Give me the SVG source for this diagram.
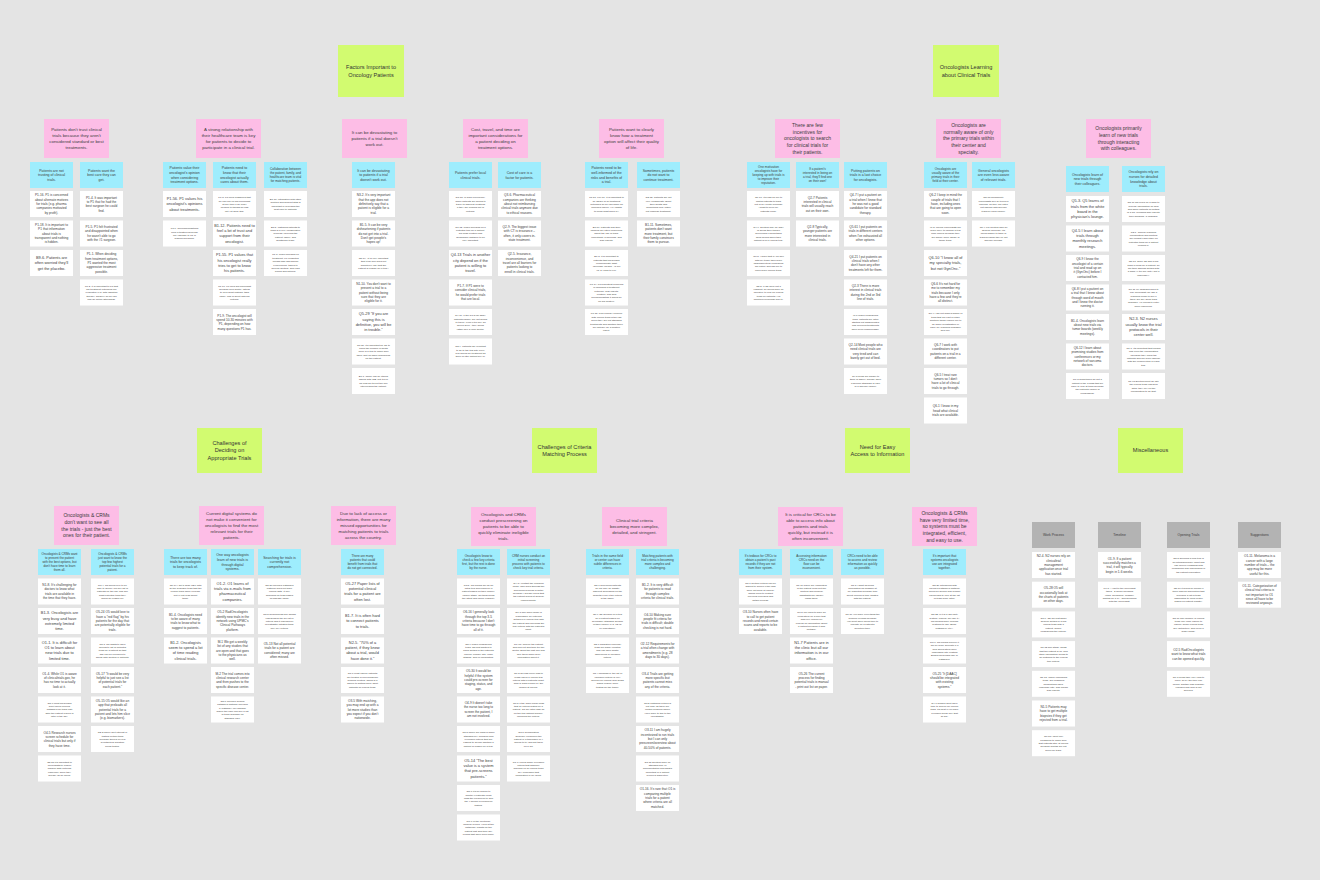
<svg xmlns="http://www.w3.org/2000/svg" width="1320" height="880" viewBox="0 0 1320 880">
<style>
.bg{fill:#e4e4e4}
.n{fill:#ffffff}
.p{fill:#fdbde6}
.c{fill:#9eedfd}
.g{fill:#d2fb70}
.k{fill:#b3b3b3}
text{font-family:"Liberation Sans",Arial,sans-serif;fill:#3c3c3c;text-anchor:middle}
.H{font-size:4.4px}
.HL{font-size:5px}
.C{font-size:3.5px}
.Cs{font-size:3.1px}
.G{font-size:5.6px;fill:#333}
.K{font-size:3.4px}
.L{font-size:3.9px}
.M{font-size:3.2px}
.S{font-size:2.5px}
</style>
<rect class="bg" width="1320" height="880"/>
<g id="connectors"/>

<!-- ===== Green titles ===== -->
<g id="title-factors" transform="translate(338,45)"><rect class="g" width="66" height="52"/><text class="G" y="26"><tspan x="33" dy="-0.33em">Factors Important to</tspan><tspan x="33" dy="1.35em">Oncology Patients</tspan></text></g>
<g id="title-learning" transform="translate(933,45)"><rect class="g" width="66" height="52"/><text class="G" y="26"><tspan x="33" dy="-0.33em">Oncologists Learning</tspan><tspan x="33" dy="1.35em">about Clinical Trials</tspan></text></g>
<g id="title-deciding" transform="translate(197,428)"><rect class="g" width="65" height="45"/><text class="G" y="22.5"><tspan x="32.5" dy="-1em">Challenges of</tspan><tspan x="32.5" dy="1.35em">Deciding on</tspan><tspan x="32.5" dy="1.35em">Appropriate Trials</tspan></text></g>
<g id="title-criteria" transform="translate(532,428)"><rect class="g" width="65" height="45"/><text class="G" y="22.5"><tspan x="32.5" dy="-0.33em">Challenges of Criteria</tspan><tspan x="32.5" dy="1.35em">Matching Process</tspan></text></g>
<g id="title-access" transform="translate(845,428)"><rect class="g" width="65" height="45"/><text class="G" y="22.5"><tspan x="32.5" dy="-0.33em">Need for Easy</tspan><tspan x="32.5" dy="1.35em">Access to Information</tspan></text></g>
<g id="title-misc" transform="translate(1118,428)"><rect class="g" width="65" height="45"/><text class="G" y="22.5"><tspan x="32.5" dy="0.35em">Miscellaneous</tspan></text></g>

<!-- ===== Top pink headers ===== -->
<g id="p-trust" transform="translate(44,119)"><rect class="p" width="65" height="39"/><text class="H" y="19.5"><tspan x="32.5" dy="-1.68em">Patients don't trust clinical</tspan><tspan x="32.5" dy="1.35em">trials because they aren't</tspan><tspan x="32.5" dy="1.35em">considered standard or best</tspan><tspan x="32.5" dy="1.35em">treatments.</tspan></text></g>
<g id="p-relationship" transform="translate(196,119)"><rect class="p" width="65" height="39"/><text class="H" y="19.5"><tspan x="32.5" dy="-1.68em">A strong relationship with</tspan><tspan x="32.5" dy="1.35em">their healthcare team is key</tspan><tspan x="32.5" dy="1.35em">for patients to decide to</tspan><tspan x="32.5" dy="1.35em">participate in a clinical trial.</tspan></text></g>
<g id="p-devastating" transform="translate(342,119)"><rect class="p" width="65" height="39"/><text class="H" y="19.5"><tspan x="32.5" dy="-1em">It can be devastating to</tspan><tspan x="32.5" dy="1.35em">patients if a trial doesn't</tspan><tspan x="32.5" dy="1.35em">work out.</tspan></text></g>
<g id="p-cost" transform="translate(463,119)"><rect class="p" width="65" height="39"/><text class="H" y="19.5"><tspan x="32.5" dy="-1.68em">Cost, travel, and time are</tspan><tspan x="32.5" dy="1.35em">important considerations for</tspan><tspan x="32.5" dy="1.35em">a patient deciding on</tspan><tspan x="32.5" dy="1.35em">treatment options.</tspan></text></g>
<g id="p-quality" transform="translate(599,119)"><rect class="p" width="65" height="39"/><text class="H" y="19.5"><tspan x="32.5" dy="-1.68em">Patients want to clearly</tspan><tspan x="32.5" dy="1.35em">know how a treatment</tspan><tspan x="32.5" dy="1.35em">option will affect their quality</tspan><tspan x="32.5" dy="1.35em">of life.</tspan></text></g>
<g id="p-incentives" transform="translate(775,119)"><rect class="p" width="65" height="39"/><text class="HL" y="19.5"><tspan x="32.5" dy="-2.35em">There are few</tspan><tspan x="32.5" dy="1.35em">incentives for</tspan><tspan x="32.5" dy="1.35em">oncologists to search</tspan><tspan x="32.5" dy="1.35em">for clinical trials for</tspan><tspan x="32.5" dy="1.35em">their patients.</tspan></text></g>
<g id="p-aware" transform="translate(936,119)"><rect class="p" width="65" height="39"/><text class="HL" y="19.5"><tspan x="32.5" dy="-2.35em">Oncologists are</tspan><tspan x="32.5" dy="1.35em">normally aware of only</tspan><tspan x="32.5" dy="1.35em">the primary trials within</tspan><tspan x="32.5" dy="1.35em">their center and</tspan><tspan x="32.5" dy="1.35em">specialty.</tspan></text></g>
<g id="p-colleagues" transform="translate(1086,119)"><rect class="p" width="65" height="39"/><text class="HL" y="19.5"><tspan x="32.5" dy="-1.68em">Oncologists primarily</tspan><tspan x="32.5" dy="1.35em">learn of new trials</tspan><tspan x="32.5" dy="1.35em">through interacting</tspan><tspan x="32.5" dy="1.35em">with colleagues.</tspan></text></g>

<!-- ===== Top cyan subheaders ===== -->
<g id="c-nottrusting" transform="translate(30,162)"><rect class="c" width="43" height="26"/><text class="C" y="13"><tspan x="21.5" dy="-1em">Patients are not</tspan><tspan x="21.5" dy="1.35em">trusting of clinical</tspan><tspan x="21.5" dy="1.35em">trials.</tspan></text></g>
<g id="c-bestcare" transform="translate(80,162)"><rect class="c" width="43" height="26"/><text class="C" y="13"><tspan x="21.5" dy="-1em">Patients want the</tspan><tspan x="21.5" dy="1.35em">best care they can</tspan><tspan x="21.5" dy="1.35em">get.</tspan></text></g>
<g id="c-value" transform="translate(163,162)"><rect class="c" width="43" height="26"/><text class="C" y="13"><tspan x="21.5" dy="-1.68em">Patients value their</tspan><tspan x="21.5" dy="1.35em">oncologist's opinion</tspan><tspan x="21.5" dy="1.35em">when considering</tspan><tspan x="21.5" dy="1.35em">treatment options.</tspan></text></g>
<g id="c-cares" transform="translate(213,162)"><rect class="c" width="43" height="26"/><text class="C" y="13"><tspan x="21.5" dy="-1.68em">Patients need to</tspan><tspan x="21.5" dy="1.35em">know that their</tspan><tspan x="21.5" dy="1.35em">oncologist actually</tspan><tspan x="21.5" dy="1.35em">cares about them.</tspan></text></g>
<g id="c-collab" transform="translate(264,162)"><rect class="c" width="43" height="26"/><text class="Cs" y="13"><tspan x="21.5" dy="-1.68em">Collaboration between</tspan><tspan x="21.5" dy="1.35em">the patient, family, and</tspan><tspan x="21.5" dy="1.35em">healthcare team is vital</tspan><tspan x="21.5" dy="1.35em">for matching patients.</tspan></text></g>
<g id="c-devastating" transform="translate(352,162)"><rect class="c" width="43" height="26"/><text class="C" y="13"><tspan x="21.5" dy="-1em">It can be devastating</tspan><tspan x="21.5" dy="1.35em">to patients if a trial</tspan><tspan x="21.5" dy="1.35em">doesn't work out.</tspan></text></g>
<g id="c-local" transform="translate(449,162)"><rect class="c" width="43" height="26"/><text class="C" y="13"><tspan x="21.5" dy="-0.33em">Patients prefer local</tspan><tspan x="21.5" dy="1.35em">clinical trials.</tspan></text></g>
<g id="c-costcare" transform="translate(498,162)"><rect class="c" width="43" height="26"/><text class="C" y="13"><tspan x="21.5" dy="-0.33em">Cost of care is a</tspan><tspan x="21.5" dy="1.35em">factor for patients.</tspan></text></g>
<g id="c-informed" transform="translate(585,162)"><rect class="c" width="43" height="26"/><text class="C" y="13"><tspan x="21.5" dy="-1.68em">Patients need to be</tspan><tspan x="21.5" dy="1.35em">well-informed of the</tspan><tspan x="21.5" dy="1.35em">risks and benefits of</tspan><tspan x="21.5" dy="1.35em">a trial.</tspan></text></g>
<g id="c-continue" transform="translate(637,162)"><rect class="c" width="43" height="26"/><text class="C" y="13"><tspan x="21.5" dy="-1em">Sometimes, patients</tspan><tspan x="21.5" dy="1.35em">do not want to</tspan><tspan x="21.5" dy="1.35em">continue treatment.</tspan></text></g>
<g id="c-reputation" transform="translate(747,162)"><rect class="c" width="43" height="26"/><text class="Cs" y="13"><tspan x="21.5" dy="-2.35em">One motivation</tspan><tspan x="21.5" dy="1.35em">oncologists have for</tspan><tspan x="21.5" dy="1.35em">keeping up with trials is</tspan><tspan x="21.5" dy="1.35em">to improve their</tspan><tspan x="21.5" dy="1.35em">reputation.</tspan></text></g>
<g id="c-ownway" transform="translate(796,162)"><rect class="c" width="43" height="26"/><text class="Cs" y="13"><tspan x="21.5" dy="-1.68em">If a patient's</tspan><tspan x="21.5" dy="1.35em">interested in being on</tspan><tspan x="21.5" dy="1.35em">a trial, they'll find one</tspan><tspan x="21.5" dy="1.35em">on their own!</tspan></text></g>
<g id="c-lastchoice" transform="translate(844,162)"><rect class="c" width="43" height="26"/><text class="C" y="13"><tspan x="21.5" dy="-1em">Putting patients on</tspan><tspan x="21.5" dy="1.35em">trials is a last choice</tspan><tspan x="21.5" dy="1.35em">for oncologists.</tspan></text></g>
<g id="c-primary" transform="translate(924,162)"><rect class="c" width="43" height="26"/><text class="Cs" y="13"><tspan x="21.5" dy="-1.68em">Oncologists are</tspan><tspan x="21.5" dy="1.35em">usually aware of the</tspan><tspan x="21.5" dy="1.35em">primary trials in their</tspan><tspan x="21.5" dy="1.35em">field at their center.</tspan></text></g>
<g id="c-general" transform="translate(972,162)"><rect class="c" width="43" height="26"/><text class="C" y="13"><tspan x="21.5" dy="-1em">General oncologists</tspan><tspan x="21.5" dy="1.35em">are even less aware</tspan><tspan x="21.5" dy="1.35em">of relevant trials.</tspan></text></g>
<g id="c-learn" transform="translate(1066,166)"><rect class="c" width="43" height="26"/><text class="C" y="13"><tspan x="21.5" dy="-1em">Oncologists learn of</tspan><tspan x="21.5" dy="1.35em">new trials through</tspan><tspan x="21.5" dy="1.35em">their colleagues.</tspan></text></g>
<g id="c-nurses" transform="translate(1122,166)"><rect class="c" width="43" height="26"/><text class="C" y="13"><tspan x="21.5" dy="-1.68em">Oncologists rely on</tspan><tspan x="21.5" dy="1.35em">nurses for detailed</tspan><tspan x="21.5" dy="1.35em">knowledge about</tspan><tspan x="21.5" dy="1.35em">trials.</tspan></text></g>

<!-- ===== Top notes ===== -->
<g id="nA1" transform="translate(30,191)"><rect class="n" width="43" height="26"/><text class="M" y="13"><tspan x="21.5" dy="-2.35em">P1-16. P1 is concerned</tspan><tspan x="21.5" dy="1.35em">about alternate motives</tspan><tspan x="21.5" dy="1.35em">for trials (e.g. pharma</tspan><tspan x="21.5" dy="1.35em">companies motivated</tspan><tspan x="21.5" dy="1.35em">by profit).</tspan></text></g>
<g id="nA2" transform="translate(30,220.5)"><rect class="n" width="43" height="26"/><text class="M" y="13"><tspan x="21.5" dy="-2.35em">P1-18. It is important to</tspan><tspan x="21.5" dy="1.35em">P1 that information</tspan><tspan x="21.5" dy="1.35em">about trials is</tspan><tspan x="21.5" dy="1.35em">transparent and nothing</tspan><tspan x="21.5" dy="1.35em">is hidden.</tspan></text></g>
<g id="nA3" transform="translate(30,250)"><rect class="n" width="43" height="26"/><text class="L" y="13"><tspan x="21.5" dy="-1em">B9-6. Patients are</tspan><tspan x="21.5" dy="1.35em">often worried they'll</tspan><tspan x="21.5" dy="1.35em">get the placebo.</tspan></text></g>

<g id="nB1" transform="translate(80,191)"><rect class="n" width="43" height="26"/><text class="M" y="13"><tspan x="21.5" dy="-1.68em">P1-4. It was important</tspan><tspan x="21.5" dy="1.35em">to P1 that he had the</tspan><tspan x="21.5" dy="1.35em">best surgeon he could</tspan><tspan x="21.5" dy="1.35em">find.</tspan></text></g>
<g id="nB2" transform="translate(80,220.5)"><rect class="n" width="43" height="26"/><text class="M" y="13"><tspan x="21.5" dy="-1.68em">P1-5. P1 felt frustrated</tspan><tspan x="21.5" dy="1.35em">and disappointed when</tspan><tspan x="21.5" dy="1.35em">he wasn't able to go</tspan><tspan x="21.5" dy="1.35em">with the #1 surgeon.</tspan></text></g>
<g id="nB3" transform="translate(80,250)"><rect class="n" width="43" height="26"/><text class="M" y="13"><tspan x="21.5" dy="-2.35em">P1-1. When deciding</tspan><tspan x="21.5" dy="1.35em">from treatment options,</tspan><tspan x="21.5" dy="1.35em">P1 wanted the most</tspan><tspan x="21.5" dy="1.35em">aggressive treatment</tspan><tspan x="21.5" dy="1.35em">possible.</tspan></text></g>
<g id="nB4" transform="translate(80,279.5)"><rect class="n" width="43" height="26"/><text class="S" y="13"><tspan x="21.5" dy="-2.35em">P1-2. It is important to P1 that</tspan><tspan x="21.5" dy="1.35em">his treatment outcomes are</tspan><tspan x="21.5" dy="1.35em">evaluated (e.g. with radiation</tspan><tspan x="21.5" dy="1.35em">therapy, surgery) so he can</tspan><tspan x="21.5" dy="1.35em">find an option afterwards.</tspan></text></g>

<g id="nC1" transform="translate(163,191)"><rect class="n" width="43" height="26"/><text class="L" y="13"><tspan x="21.5" dy="-1em">P1-56. P1 values his</tspan><tspan x="21.5" dy="1.35em">oncologist's opinions</tspan><tspan x="21.5" dy="1.35em">about treatments.</tspan></text></g>
<g id="nC2" transform="translate(163,220.5)"><rect class="n" width="43" height="26"/><text class="S" y="13"><tspan x="21.5" dy="-1.68em">P1-6. Recommendations</tspan><tspan x="21.5" dy="1.35em">from a trusted physician</tspan><tspan x="21.5" dy="1.35em">are valuable to P1 in</tspan><tspan x="21.5" dy="1.35em">making decisions.</tspan></text></g>

<g id="nD1" transform="translate(213,191)"><rect class="n" width="43" height="26"/><text class="S" y="13"><tspan x="21.5" dy="-2.35em">P1-8. P1 feels reassured that</tspan><tspan x="21.5" dy="1.35em">he can call up his oncologist</tspan><tspan x="21.5" dy="1.35em">at any time if he really</tspan><tspan x="21.5" dy="1.35em">needed to though he has</tspan><tspan x="21.5" dy="1.35em">not yet done this.</tspan></text></g>
<g id="nD2" transform="translate(213,220.5)"><rect class="n" width="43" height="26"/><text class="L" y="13"><tspan x="21.5" dy="-1.68em">B1-12. Patients need to</tspan><tspan x="21.5" dy="1.35em">feel a lot of trust and</tspan><tspan x="21.5" dy="1.35em">support from their</tspan><tspan x="21.5" dy="1.35em">oncologist.</tspan></text></g>
<g id="nD3" transform="translate(213,250)"><rect class="n" width="43" height="26"/><text class="L" y="13"><tspan x="21.5" dy="-1.68em">P1-55. P1 values that</tspan><tspan x="21.5" dy="1.35em">his oncologist really</tspan><tspan x="21.5" dy="1.35em">tries to get to know</tspan><tspan x="21.5" dy="1.35em">his patients.</tspan></text></g>
<g id="nD4" transform="translate(213,279.5)"><rect class="n" width="43" height="26"/><text class="S" y="13"><tspan x="21.5" dy="-2.35em">P1-10. P1 likes his oncologist</tspan><tspan x="21.5" dy="1.35em">because he's gentle, listens</tspan><tspan x="21.5" dy="1.35em">to P1's heart instead, talks</tspan><tspan x="21.5" dy="1.35em">easily, and is direct with his</tspan><tspan x="21.5" dy="1.35em">options.</tspan></text></g>
<g id="nD5" transform="translate(213,309)"><rect class="n" width="43" height="26"/><text class="M" y="13"><tspan x="21.5" dy="-1.68em">P1-9. The oncologist will</tspan><tspan x="21.5" dy="1.35em">spend 10-30 minutes with</tspan><tspan x="21.5" dy="1.35em">P1, depending on how</tspan><tspan x="21.5" dy="1.35em">many questions P1 has.</tspan></text></g>

<g id="nE1" transform="translate(264,191)"><rect class="n" width="43" height="26"/><text class="S" y="13"><tspan x="21.5" dy="-1.68em">B1-13. Integration with other</tspan><tspan x="21.5" dy="1.35em">doctors and support staff is</tspan><tspan x="21.5" dy="1.35em">important in providing the</tspan><tspan x="21.5" dy="1.35em">best care to patients.</tspan></text></g>
<g id="nE2" transform="translate(264,220.5)"><rect class="n" width="43" height="26"/><text class="S" y="13"><tspan x="21.5" dy="-2.35em">B1-5. Matching patients to</tspan><tspan x="21.5" dy="1.35em">trials is a very collaborative</tspan><tspan x="21.5" dy="1.35em">process, involving the</tspan><tspan x="21.5" dy="1.35em">patient, family, and</tspan><tspan x="21.5" dy="1.35em">healthcare team.</tspan></text></g>
<g id="nE3" transform="translate(264,250)"><rect class="n" width="43" height="26"/><text class="S" y="13"><tspan x="21.5" dy="-3.03em">P1-3. When deciding on</tspan><tspan x="21.5" dy="1.35em">treatment, P1 consulted</tspan><tspan x="21.5" dy="1.35em">friends who had similar</tspan><tspan x="21.5" dy="1.35em">experiences, talked to</tspan><tspan x="21.5" dy="1.35em">several doctors, and read</tspan><tspan x="21.5" dy="1.35em">books and articles.</tspan></text></g>

<g id="nF1" transform="translate(352,191)"><rect class="n" width="43" height="26"/><text class="M" y="13"><tspan x="21.5" dy="-2.35em">N3-2. It's very important</tspan><tspan x="21.5" dy="1.35em">that the app does not</tspan><tspan x="21.5" dy="1.35em">definitively say that a</tspan><tspan x="21.5" dy="1.35em">patient is eligible for a</tspan><tspan x="21.5" dy="1.35em">trial.</tspan></text></g>
<g id="nF2" transform="translate(352,220.5)"><rect class="n" width="43" height="26"/><text class="M" y="13"><tspan x="21.5" dy="-2.35em">B1-5. It can be very</tspan><tspan x="21.5" dy="1.35em">disheartening if patients</tspan><tspan x="21.5" dy="1.35em">do not get into a trial.</tspan><tspan x="21.5" dy="1.35em">Don't get people's</tspan><tspan x="21.5" dy="1.35em">hopes up!</tspan></text></g>
<g id="nF3" transform="translate(352,250)"><rect class="n" width="43" height="26"/><text class="S" y="13"><tspan x="21.5" dy="-1.68em">Q5-19. "It is very important</tspan><tspan x="21.5" dy="1.35em">that (t)he app does not</tspan><tspan x="21.5" dy="1.35em">definitively say that the</tspan><tspan x="21.5" dy="1.35em">patient is eligible for a trial."</tspan></text></g>
<g id="nF4" transform="translate(352,279.5)"><rect class="n" width="43" height="26"/><text class="M" y="13"><tspan x="21.5" dy="-2.35em">N1-10. You don't want to</tspan><tspan x="21.5" dy="1.35em">present a trial to a</tspan><tspan x="21.5" dy="1.35em">patient without being</tspan><tspan x="21.5" dy="1.35em">sure that they are</tspan><tspan x="21.5" dy="1.35em">eligible for it.</tspan></text></g>
<g id="nF5" transform="translate(352,309)"><rect class="n" width="43" height="26"/><text class="L" y="13"><tspan x="21.5" dy="-1.68em">Q5-29 "If you are</tspan><tspan x="21.5" dy="1.35em">saying this is</tspan><tspan x="21.5" dy="1.35em">definitive, you will be</tspan><tspan x="21.5" dy="1.35em">in trouble."</tspan></text></g>
<g id="nF6" transform="translate(352,338.5)"><rect class="n" width="43" height="26"/><text class="S" y="13"><tspan x="21.5" dy="-2.35em">Q1-56. It's important for Q1 to</tspan><tspan x="21.5" dy="1.35em">know the number of spots</tspan><tspan x="21.5" dy="1.35em">open in a trial to make sure</tspan><tspan x="21.5" dy="1.35em">there isn't an issue scheduling</tspan><tspan x="21.5" dy="1.35em">for the patient.</tspan></text></g>
<g id="nF7" transform="translate(352,368)"><rect class="n" width="43" height="26"/><text class="S" y="13"><tspan x="21.5" dy="-1.68em">B1-1. There can be ethical</tspan><tspan x="21.5" dy="1.35em">issues with IRB, but it's ok</tspan><tspan x="21.5" dy="1.35em">as long as it's not the one</tspan><tspan x="21.5" dy="1.35em">interviewing the patient.</tspan></text></g>

<g id="nG1" transform="translate(449,191)"><rect class="n" width="43" height="26"/><text class="S" y="13"><tspan x="21.5" dy="-2.35em">Q3-15. In Q3's experience,</tspan><tspan x="21.5" dy="1.35em">some patients are willing to</tspan><tspan x="21.5" dy="1.35em">travel to different locations</tspan><tspan x="21.5" dy="1.35em">if they are running out of</tspan><tspan x="21.5" dy="1.35em">options.</tspan></text></g>
<g id="nG2" transform="translate(449,220.5)"><rect class="n" width="43" height="26"/><text class="S" y="13"><tspan x="21.5" dy="-2.35em">Q1-12. When deciding on a</tspan><tspan x="21.5" dy="1.35em">potential trial for a patient,</tspan><tspan x="21.5" dy="1.35em">Q1 finds location and</tspan><tspan x="21.5" dy="1.35em">geographic distance to be</tspan><tspan x="21.5" dy="1.35em">very important.</tspan></text></g>
<g id="nG3" transform="translate(449,250)"><rect class="n" width="43" height="26"/><text class="L" y="13"><tspan x="21.5" dy="-1.68em">Q4-13 Trials in another</tspan><tspan x="21.5" dy="1.35em">city depend on if the</tspan><tspan x="21.5" dy="1.35em">patient is willing to</tspan><tspan x="21.5" dy="1.35em">travel.</tspan></text></g>
<g id="nG4" transform="translate(449,279.5)"><rect class="n" width="43" height="26"/><text class="M" y="13"><tspan x="21.5" dy="-1.68em">P1-7. If P1 were to</tspan><tspan x="21.5" dy="1.35em">consider clinical trials,</tspan><tspan x="21.5" dy="1.35em">he would prefer trials</tspan><tspan x="21.5" dy="1.35em">that are local.</tspan></text></g>
<g id="nG5" transform="translate(449,309)"><rect class="n" width="43" height="26"/><text class="S" y="13"><tspan x="21.5" dy="-2.35em">Q4-10. If the CT is far away,</tspan><tspan x="21.5" dy="1.35em">patients usually are not willing</tspan><tspan x="21.5" dy="1.35em">to travel, even if it's only an</tspan><tspan x="21.5" dy="1.35em">hour's drive - they would</tspan><tspan x="21.5" dy="1.35em">rather see a local doctor.</tspan></text></g>
<g id="nG6" transform="translate(449,338.5)"><rect class="n" width="43" height="26"/><text class="S" y="13"><tspan x="21.5" dy="-1.68em">Q2-4. Patients are reluctant</tspan><tspan x="21.5" dy="1.35em">to go to the trial site every</tspan><tspan x="21.5" dy="1.35em">few weeks for treatment as</tspan><tspan x="21.5" dy="1.35em">there is little patient buy-in.</tspan></text></g>

<g id="nH1" transform="translate(498,191)"><rect class="n" width="43" height="26"/><text class="M" y="13"><tspan x="21.5" dy="-2.35em">Q3-6. Pharmaceutical</tspan><tspan x="21.5" dy="1.35em">companies are thinking</tspan><tspan x="21.5" dy="1.35em">about not reimbursing</tspan><tspan x="21.5" dy="1.35em">clinical trials anymore due</tspan><tspan x="21.5" dy="1.35em">to ethical reasons.</tspan></text></g>
<g id="nH2" transform="translate(498,220.5)"><rect class="n" width="43" height="26"/><text class="M" y="13"><tspan x="21.5" dy="-1.68em">Q2-9. The biggest issue</tspan><tspan x="21.5" dy="1.35em">with CT is insurance –</tspan><tspan x="21.5" dy="1.35em">often, it only covers in-</tspan><tspan x="21.5" dy="1.35em">state treatment.</tspan></text></g>
<g id="nH3" transform="translate(498,250)"><rect class="n" width="43" height="26"/><text class="M" y="13"><tspan x="21.5" dy="-2.35em">Q2-5. Insurance,</tspan><tspan x="21.5" dy="1.35em">inconvenience, and</tspan><tspan x="21.5" dy="1.35em">travel are all barriers for</tspan><tspan x="21.5" dy="1.35em">patients looking to</tspan><tspan x="21.5" dy="1.35em">enroll in clinical trials.</tspan></text></g>

<g id="nI1" transform="translate(585,191)"><rect class="n" width="43" height="26"/><text class="S" y="13"><tspan x="21.5" dy="-2.35em">P1-57. For P1, it is important to</tspan><tspan x="21.5" dy="1.35em">be aware of all treatment</tspan><tspan x="21.5" dy="1.35em">outcomes so he can make an</tspan><tspan x="21.5" dy="1.35em">informed choice. He "wants</tspan><tspan x="21.5" dy="1.35em">to know what goes in."</tspan></text></g>
<g id="nI2" transform="translate(585,220.5)"><rect class="n" width="43" height="26"/><text class="S" y="13"><tspan x="21.5" dy="-2.35em">B1-10. Patients and their</tspan><tspan x="21.5" dy="1.35em">families are often concerned</tspan><tspan x="21.5" dy="1.35em">about the risk of trials,</tspan><tspan x="21.5" dy="1.35em">uncertainty of success, and</tspan><tspan x="21.5" dy="1.35em">side effects.</tspan></text></g>
<g id="nI3" transform="translate(585,250)"><rect class="n" width="43" height="26"/><text class="S" y="13"><tspan x="21.5" dy="-2.35em">B1-8. It is important to</tspan><tspan x="21.5" dy="1.35em">patients that physicians</tspan><tspan x="21.5" dy="1.35em">communicate what</tspan><tspan x="21.5" dy="1.35em">"success" means - (1 mo</tspan><tspan x="21.5" dy="1.35em">vs. 2 years to live.</tspan></text></g>
<g id="nI4" transform="translate(585,279.5)"><rect class="n" width="43" height="26"/><text class="S" y="13"><tspan x="21.5" dy="-3.03em">P1-14. P1's greatest concerns</tspan><tspan x="21.5" dy="1.35em">in choosing a treatment:</tspan><tspan x="21.5" dy="1.35em">outcome, side effects,</tspan><tspan x="21.5" dy="1.35em">location, and how</tspan><tspan x="21.5" dy="1.35em">accommodating it would be</tspan><tspan x="21.5" dy="1.35em">for his lifestyle.</tspan></text></g>
<g id="nI5" transform="translate(585,309)"><rect class="n" width="43" height="26"/><text class="S" y="13"><tspan x="21.5" dy="-3.03em">P1-15. P1's primary concern</tspan><tspan x="21.5" dy="1.35em">with clinical trials is the risk</tspan><tspan x="21.5" dy="1.35em">given they are not standard</tspan><tspan x="21.5" dy="1.35em">treatments and whether there</tspan><tspan x="21.5" dy="1.35em">will actually be a positive</tspan><tspan x="21.5" dy="1.35em">effect.</tspan></text></g>

<g id="nJ1" transform="translate(637,191)"><rect class="n" width="43" height="26"/><text class="S" y="13"><tspan x="21.5" dy="-2.35em">Q2-12. Patients are not</tspan><tspan x="21.5" dy="1.35em">very considerate about</tspan><tspan x="21.5" dy="1.35em">their health and</tspan><tspan x="21.5" dy="1.35em">sometimes may either</tspan><tspan x="21.5" dy="1.35em">not undergo treatment.</tspan></text></g>
<g id="nJ2" transform="translate(637,220.5)"><rect class="n" width="43" height="26"/><text class="M" y="13"><tspan x="21.5" dy="-2.35em">B1-11. Sometimes,</tspan><tspan x="21.5" dy="1.35em">patients don't want</tspan><tspan x="21.5" dy="1.35em">more treatment, but</tspan><tspan x="21.5" dy="1.35em">their family convinces</tspan><tspan x="21.5" dy="1.35em">them to pursue.</tspan></text></g>

<g id="nK1" transform="translate(747,191)"><rect class="n" width="43" height="26"/><text class="S" y="13"><tspan x="21.5" dy="-2.35em">Q6-10. It's less for me to</tspan><tspan x="21.5" dy="1.35em">match patients to trials</tspan><tspan x="21.5" dy="1.35em">not in my center because</tspan><tspan x="21.5" dy="1.35em">I want to keep my</tspan><tspan x="21.5" dy="1.35em">patients close.</tspan></text></g>
<g id="nK2" transform="translate(747,220.5)"><rect class="n" width="43" height="26"/><text class="S" y="13"><tspan x="21.5" dy="-2.35em">Q4-9. Doctors may be wary</tspan><tspan x="21.5" dy="1.35em">of giving their trainee</tspan><tspan x="21.5" dy="1.35em">succeeded if something</tspan><tspan x="21.5" dy="1.35em">goes wrong when their</tspan><tspan x="21.5" dy="1.35em">patient is on a clinical trial.</tspan></text></g>
<g id="nK3" transform="translate(747,250)"><rect class="n" width="43" height="26"/><text class="S" y="13"><tspan x="21.5" dy="-2.35em">Q6-8. I hope that if I do well</tspan><tspan x="21.5" dy="1.35em">with my trials, then more</tspan><tspan x="21.5" dy="1.35em">pharmaceutical companies</tspan><tspan x="21.5" dy="1.35em">will notice and ask me to</tspan><tspan x="21.5" dy="1.35em">open more clinical trials.</tspan></text></g>
<g id="nK4" transform="translate(747,279.5)"><rect class="n" width="43" height="26"/><text class="S" y="13"><tspan x="21.5" dy="-2.35em">Q5-5. If Q5 were not a</tspan><tspan x="21.5" dy="1.35em">resident, he would have no</tspan><tspan x="21.5" dy="1.35em">incentive to look for clinical</tspan><tspan x="21.5" dy="1.35em">trials for patients. His</tspan><tspan x="21.5" dy="1.35em">mentors encourage him to.</tspan></text></g>

<g id="nL1" transform="translate(796,191)"><rect class="n" width="43" height="26"/><text class="M" y="13"><tspan x="21.5" dy="-1.68em">Q2-7 Patients</tspan><tspan x="21.5" dy="1.35em">interested in clinical</tspan><tspan x="21.5" dy="1.35em">trials will usually reach</tspan><tspan x="21.5" dy="1.35em">out on their own.</tspan></text></g>
<g id="nL2" transform="translate(796,220.5)"><rect class="n" width="43" height="26"/><text class="M" y="13"><tspan x="21.5" dy="-1.68em">Q2-8 Typically,</tspan><tspan x="21.5" dy="1.35em">younger patients are</tspan><tspan x="21.5" dy="1.35em">more interested in</tspan><tspan x="21.5" dy="1.35em">clinical trials.</tspan></text></g>

<g id="nM1" transform="translate(844,191)"><rect class="n" width="43" height="26"/><text class="M" y="13"><tspan x="21.5" dy="-2.35em">Q4-7 I put a patient on</tspan><tspan x="21.5" dy="1.35em">a trial when I knew that</tspan><tspan x="21.5" dy="1.35em">he was not a good</tspan><tspan x="21.5" dy="1.35em">candidate for standard</tspan><tspan x="21.5" dy="1.35em">therapy.</tspan></text></g>
<g id="nM2" transform="translate(844,220.5)"><rect class="n" width="43" height="26"/><text class="M" y="13"><tspan x="21.5" dy="-1.68em">Q5-61 I put patients on</tspan><tspan x="21.5" dy="1.35em">trials in different centers</tspan><tspan x="21.5" dy="1.35em">when I've exhausted all</tspan><tspan x="21.5" dy="1.35em">other options.</tspan></text></g>
<g id="nM3" transform="translate(844,250)"><rect class="n" width="43" height="26"/><text class="M" y="13"><tspan x="21.5" dy="-1.68em">Q4-21 I put patients on</tspan><tspan x="21.5" dy="1.35em">clinical trials when I</tspan><tspan x="21.5" dy="1.35em">don't have any other</tspan><tspan x="21.5" dy="1.35em">treatments left for them.</tspan></text></g>
<g id="nM4" transform="translate(844,279.5)"><rect class="n" width="43" height="26"/><text class="M" y="13"><tspan x="21.5" dy="-1.68em">Q2-3 There is more</tspan><tspan x="21.5" dy="1.35em">interest in clinical trials</tspan><tspan x="21.5" dy="1.35em">during the 2nd or 3rd</tspan><tspan x="21.5" dy="1.35em">line of trials.</tspan></text></g>
<g id="nM5" transform="translate(844,309)"><rect class="n" width="43" height="26"/><text class="S" y="13"><tspan x="21.5" dy="-2.35em">W-7 When considering</tspan><tspan x="21.5" dy="1.35em">trials, patients are often</tspan><tspan x="21.5" dy="1.35em">starting out disappointed</tspan><tspan x="21.5" dy="1.35em">and previous treatments</tspan><tspan x="21.5" dy="1.35em">have been unsuccessful.</tspan></text></g>
<g id="nM6" transform="translate(844,338.5)"><rect class="n" width="43" height="26"/><text class="M" y="13"><tspan x="21.5" dy="-1.68em">Q2-14 Most people who</tspan><tspan x="21.5" dy="1.35em">need clinical trials are</tspan><tspan x="21.5" dy="1.35em">very tired and can</tspan><tspan x="21.5" dy="1.35em">barely get out of bed.</tspan></text></g>
<g id="nM7" transform="translate(844,368)"><rect class="n" width="43" height="26"/><text class="S" y="13"><tspan x="21.5" dy="-1.68em">Q4-8 Trials are harder to</tspan><tspan x="21.5" dy="1.35em">think of when I already have</tspan><tspan x="21.5" dy="1.35em">a specific standard of care</tspan><tspan x="21.5" dy="1.35em">or a specific cancer.</tspan></text></g>

<g id="nN1" transform="translate(924,191)"><rect class="n" width="43" height="26"/><text class="M" y="13"><tspan x="21.5" dy="-2.35em">Q6-2 I keep in mind the</tspan><tspan x="21.5" dy="1.35em">couple of trials that I</tspan><tspan x="21.5" dy="1.35em">have, including ones</tspan><tspan x="21.5" dy="1.35em">that are going to open</tspan><tspan x="21.5" dy="1.35em">soon.</tspan></text></g>
<g id="nN2" transform="translate(924,220.5)"><rect class="n" width="43" height="26"/><text class="S" y="13"><tspan x="21.5" dy="-2.35em">W-5. UPMC oncologists are</tspan><tspan x="21.5" dy="1.35em">more likely to choose a trial</tspan><tspan x="21.5" dy="1.35em">from UPMC because they</tspan><tspan x="21.5" dy="1.35em">are simply more aware of</tspan><tspan x="21.5" dy="1.35em">these trials.</tspan></text></g>
<g id="nN3" transform="translate(924,250)"><rect class="n" width="43" height="26"/><text class="L" y="13"><tspan x="21.5" dy="-1em">Q6-10 "I know all of</tspan><tspan x="21.5" dy="1.35em">my specialty trials,</tspan><tspan x="21.5" dy="1.35em">but not GynOnc."</tspan></text></g>
<g id="nN4" transform="translate(924,279.5)"><rect class="n" width="43" height="26"/><text class="M" y="13"><tspan x="21.5" dy="-2.35em">Q6-6 It's not hard for</tspan><tspan x="21.5" dy="1.35em">me to remember my</tspan><tspan x="21.5" dy="1.35em">trials because I only</tspan><tspan x="21.5" dy="1.35em">have a few and they're</tspan><tspan x="21.5" dy="1.35em">all distinct.</tspan></text></g>
<g id="nN5" transform="translate(924,309)"><rect class="n" width="43" height="26"/><text class="S" y="13"><tspan x="21.5" dy="-3.03em">Q6-4 I am not always aware of</tspan><tspan x="21.5" dy="1.35em">trials that are part of other</tspan><tspan x="21.5" dy="1.35em">Centers; these require me to</tspan><tspan x="21.5" dy="1.35em">do some investigation or</tspan><tspan x="21.5" dy="1.35em">have my research manager</tspan><tspan x="21.5" dy="1.35em">help me.</tspan></text></g>
<g id="nN6" transform="translate(924,338.5)"><rect class="n" width="43" height="26"/><text class="M" y="13"><tspan x="21.5" dy="-1.68em">Q6-7 I work with</tspan><tspan x="21.5" dy="1.35em">coordinators to put</tspan><tspan x="21.5" dy="1.35em">patients on a trial in a</tspan><tspan x="21.5" dy="1.35em">different center.</tspan></text></g>
<g id="nN7" transform="translate(924,368)"><rect class="n" width="43" height="26"/><text class="M" y="13"><tspan x="21.5" dy="-1.68em">Q6-5 I treat rare</tspan><tspan x="21.5" dy="1.35em">tumors so I don't</tspan><tspan x="21.5" dy="1.35em">have a lot of clinical</tspan><tspan x="21.5" dy="1.35em">trials to go through.</tspan></text></g>
<g id="nN8" transform="translate(924,397.5)"><rect class="n" width="43" height="26"/><text class="M" y="13"><tspan x="21.5" dy="-1em">Q6-1 I know in my</tspan><tspan x="21.5" dy="1.35em">head what clinical</tspan><tspan x="21.5" dy="1.35em">trials are available.</tspan></text></g>

<g id="nO1" transform="translate(972,191)"><rect class="n" width="43" height="26"/><text class="S" y="13"><tspan x="21.5" dy="-2.35em">Q5-18 Community</tspan><tspan x="21.5" dy="1.35em">oncologists see all types of</tspan><tspan x="21.5" dy="1.35em">cancers, so they are often</tspan><tspan x="21.5" dy="1.35em">not familiar with specific</tspan><tspan x="21.5" dy="1.35em">trials for each cancer.</tspan></text></g>
<g id="nO2" transform="translate(972,220.5)"><rect class="n" width="43" height="26"/><text class="S" y="13"><tspan x="21.5" dy="-2.35em">Q6-4 For doctors who do</tspan><tspan x="21.5" dy="1.35em">general oncology, it's</tspan><tspan x="21.5" dy="1.35em">much harder to think of</tspan><tspan x="21.5" dy="1.35em">trials because they're not</tspan><tspan x="21.5" dy="1.35em">specific enough.</tspan></text></g>

<g id="nP1" transform="translate(1066,196)"><rect class="n" width="43" height="26"/><text class="L" y="13"><tspan x="21.5" dy="-1.68em">Q5-3. Q5 learns of</tspan><tspan x="21.5" dy="1.35em">trials from the white</tspan><tspan x="21.5" dy="1.35em">board in the</tspan><tspan x="21.5" dy="1.35em">physician's lounge.</tspan></text></g>
<g id="nP2" transform="translate(1066,225.5)"><rect class="n" width="43" height="26"/><text class="L" y="13"><tspan x="21.5" dy="-1.68em">Q4-5 I learn about</tspan><tspan x="21.5" dy="1.35em">trials through</tspan><tspan x="21.5" dy="1.35em">monthly research</tspan><tspan x="21.5" dy="1.35em">meetings.</tspan></text></g>
<g id="nP3" transform="translate(1066,255)"><rect class="n" width="43" height="26"/><text class="M" y="13"><tspan x="21.5" dy="-2.35em">Q6-9 I know the</tspan><tspan x="21.5" dy="1.35em">oncologist of a certain</tspan><tspan x="21.5" dy="1.35em">trial and read up on</tspan><tspan x="21.5" dy="1.35em">it (GynOnc) before I</tspan><tspan x="21.5" dy="1.35em">contacted him.</tspan></text></g>
<g id="nP4" transform="translate(1066,284.5)"><rect class="n" width="43" height="26"/><text class="M" y="13"><tspan x="21.5" dy="-2.35em">Q6-8 I put a patient on</tspan><tspan x="21.5" dy="1.35em">a trial that I knew about</tspan><tspan x="21.5" dy="1.35em">through word of mouth</tspan><tspan x="21.5" dy="1.35em">and I knew the doctor</tspan><tspan x="21.5" dy="1.35em">running it.</tspan></text></g>
<g id="nP5" transform="translate(1066,314)"><rect class="n" width="43" height="26"/><text class="M" y="13"><tspan x="21.5" dy="-1.68em">B1-4. Oncologists learn</tspan><tspan x="21.5" dy="1.35em">about new trials via</tspan><tspan x="21.5" dy="1.35em">tumor boards (weekly</tspan><tspan x="21.5" dy="1.35em">meetings).</tspan></text></g>
<g id="nP6" transform="translate(1066,343.5)"><rect class="n" width="43" height="26"/><text class="M" y="13"><tspan x="21.5" dy="-2.35em">Q6-12 I learn about</tspan><tspan x="21.5" dy="1.35em">promising studies from</tspan><tspan x="21.5" dy="1.35em">conferences or my</tspan><tspan x="21.5" dy="1.35em">network of sarcoma</tspan><tspan x="21.5" dy="1.35em">doctors.</tspan></text></g>
<g id="nP7" transform="translate(1066,373)"><rect class="n" width="43" height="26"/><text class="S" y="13"><tspan x="21.5" dy="-2.35em">N1-8 Sometimes we get a</tspan><tspan x="21.5" dy="1.35em">patient in the 3 flags that we</tspan><tspan x="21.5" dy="1.35em">have to look at trials because</tspan><tspan x="21.5" dy="1.35em">the patient's cancer is</tspan><tspan x="21.5" dy="1.35em">progressing.</tspan></text></g>

<g id="nQ1" transform="translate(1122,196)"><rect class="n" width="43" height="26"/><text class="S" y="13"><tspan x="21.5" dy="-2.35em">Q5-11 Q5 relies on a CRN to</tspan><tspan x="21.5" dy="1.35em">provide information on how</tspan><tspan x="21.5" dy="1.35em">and when patients on details</tspan><tspan x="21.5" dy="1.35em">of a CT, including side effects,</tspan><tspan x="21.5" dy="1.35em">time windows, &amp; changes.</tspan></text></g>
<g id="nQ2" transform="translate(1122,225.5)"><rect class="n" width="43" height="26"/><text class="S" y="13"><tspan x="21.5" dy="-2.35em">N2-1. Clinical research</tspan><tspan x="21.5" dy="1.35em">coordinators and doctors</tspan><tspan x="21.5" dy="1.35em">will consult each other on</tspan><tspan x="21.5" dy="1.35em">potential trials for a patient</tspan><tspan x="21.5" dy="1.35em">coming in.</tspan></text></g>
<g id="nQ3" transform="translate(1122,255)"><rect class="n" width="43" height="26"/><text class="S" y="13"><tspan x="21.5" dy="-2.35em">Q5-13. Once Q5 has a few</tspan><tspan x="21.5" dy="1.35em">trials in mind for a patient, he</tspan><tspan x="21.5" dy="1.35em">will then discuss details with</tspan><tspan x="21.5" dy="1.35em">a CRN ("I tell her until I get a</tspan><tspan x="21.5" dy="1.35em">response").</tspan></text></g>
<g id="nQ4" transform="translate(1122,284.5)"><rect class="n" width="43" height="26"/><text class="S" y="13"><tspan x="21.5" dy="-3.03em">Q6-11 My husband goes to</tspan><tspan x="21.5" dy="1.35em">one oncologist; we ask a</tspan><tspan x="21.5" dy="1.35em">research nurse to see if</tspan><tspan x="21.5" dy="1.35em">there are any good trials</tspan><tspan x="21.5" dy="1.35em">available. He needs to enter</tspan><tspan x="21.5" dy="1.35em">more resources.</tspan></text></g>
<g id="nQ5" transform="translate(1122,314)"><rect class="n" width="43" height="26"/><text class="L" y="13"><tspan x="21.5" dy="-1.68em">N2-3. N2 nurses</tspan><tspan x="21.5" dy="1.35em">usually know the trial</tspan><tspan x="21.5" dy="1.35em">protocols in their</tspan><tspan x="21.5" dy="1.35em">center well.</tspan></text></g>
<g id="nQ6" transform="translate(1122,343.5)"><rect class="n" width="43" height="26"/><text class="S" y="13"><tspan x="21.5" dy="-3.03em">N1-1. It's important that nurses</tspan><tspan x="21.5" dy="1.35em">and even the coordinators</tspan><tspan x="21.5" dy="1.35em">(because they know the</tspan><tspan x="21.5" dy="1.35em">patients and are more familiar</tspan><tspan x="21.5" dy="1.35em">with the complexities of each</tspan><tspan x="21.5" dy="1.35em">trial.</tspan></text></g>
<g id="nQ7" transform="translate(1122,373)"><rect class="n" width="43" height="26"/><text class="S" y="13"><tspan x="21.5" dy="-1.68em">N1-13 Doctors don't go into</tspan><tspan x="21.5" dy="1.35em">the clinical trials research</tspan><tspan x="21.5" dy="1.35em">sites; they rely on the</tspan><tspan x="21.5" dy="1.35em">coordinators to do that.</tspan></text></g>

<!-- ===== Bottom pink headers ===== -->
<g id="p-bestones" transform="translate(54,506)"><rect class="p" width="65" height="39"/><text class="HL" y="19.5"><tspan x="32.5" dy="-1.68em">Oncologists &amp; CRMs</tspan><tspan x="32.5" dy="1.35em">don't want to see all</tspan><tspan x="32.5" dy="1.35em">the trials - just the best</tspan><tspan x="32.5" dy="1.35em">ones for their patient.</tspan></text></g>
<g id="p-digital" transform="translate(199,506)"><rect class="p" width="65" height="39"/><text class="H" y="19.5"><tspan x="32.5" dy="-2.35em">Current digital systems do</tspan><tspan x="32.5" dy="1.35em">not make it convenient for</tspan><tspan x="32.5" dy="1.35em">oncologists to find the most</tspan><tspan x="32.5" dy="1.35em">relevant trials for their</tspan><tspan x="32.5" dy="1.35em">patients.</tspan></text></g>
<g id="p-missed" transform="translate(331,506)"><rect class="p" width="65" height="39"/><text class="H" y="19.5"><tspan x="32.5" dy="-2.35em">Due to lack of access or</tspan><tspan x="32.5" dy="1.35em">information, there are many</tspan><tspan x="32.5" dy="1.35em">missed opportunities for</tspan><tspan x="32.5" dy="1.35em">matching patients to trials</tspan><tspan x="32.5" dy="1.35em">across the country.</tspan></text></g>
<g id="p-prescreen" transform="translate(471,507)"><rect class="p" width="65" height="39"/><text class="H" y="19.5"><tspan x="32.5" dy="-2.35em">Oncologists and CRMs</tspan><tspan x="32.5" dy="1.35em">conduct prescreening on</tspan><tspan x="32.5" dy="1.35em">patients to be able to</tspan><tspan x="32.5" dy="1.35em">quickly eliminate ineligible</tspan><tspan x="32.5" dy="1.35em">trials.</tspan></text></g>
<g id="p-complex" transform="translate(602,507)"><rect class="p" width="65" height="39"/><text class="H" y="19.5"><tspan x="32.5" dy="-1em">Clinical trial criteria</tspan><tspan x="32.5" dy="1.35em">becoming more complex,</tspan><tspan x="32.5" dy="1.35em">detailed, and stringent.</tspan></text></g>
<g id="p-crcs" transform="translate(778,507)"><rect class="p" width="65" height="39"/><text class="H" y="19.5"><tspan x="32.5" dy="-2.35em">It is critical for CRCs to be</tspan><tspan x="32.5" dy="1.35em">able to access info about</tspan><tspan x="32.5" dy="1.35em">patients and trials</tspan><tspan x="32.5" dy="1.35em">quickly, but instead it is</tspan><tspan x="32.5" dy="1.35em">often inconvenient.</tspan></text></g>
<g id="p-limited" transform="translate(912,507)"><rect class="p" width="65" height="39"/><text class="HL" y="19.5"><tspan x="32.5" dy="-2.35em">Oncologists &amp; CRMs</tspan><tspan x="32.5" dy="1.35em">have very limited time,</tspan><tspan x="32.5" dy="1.35em">so systems must be</tspan><tspan x="32.5" dy="1.35em">integrated, efficient,</tspan><tspan x="32.5" dy="1.35em">and easy to use.</tspan></text></g>

<!-- ===== Bottom cyan subheaders ===== -->
<g id="c-present" transform="translate(38,549)"><rect class="c" width="43" height="26"/><text class="Cs" y="13"><tspan x="21.5" dy="-2.35em">Oncologists &amp; CRMs want</tspan><tspan x="21.5" dy="1.35em">to present the patient</tspan><tspan x="21.5" dy="1.35em">with the best options, but</tspan><tspan x="21.5" dy="1.35em">don't have time to learn</tspan><tspan x="21.5" dy="1.35em">them all.</tspan></text></g>
<g id="c-topfew" transform="translate(91,549)"><rect class="c" width="43" height="26"/><text class="Cs" y="13"><tspan x="21.5" dy="-2.35em">Oncologists &amp; CRMs</tspan><tspan x="21.5" dy="1.35em">just want to know the</tspan><tspan x="21.5" dy="1.35em">top few highest</tspan><tspan x="21.5" dy="1.35em">potential trials for a</tspan><tspan x="21.5" dy="1.35em">patient.</tspan></text></g>
<g id="c-toomany" transform="translate(164,549)"><rect class="c" width="43" height="26"/><text class="C" y="13"><tspan x="21.5" dy="-1em">There are too many</tspan><tspan x="21.5" dy="1.35em">trials for oncologists</tspan><tspan x="21.5" dy="1.35em">to keep track of.</tspan></text></g>
<g id="c-digital" transform="translate(211,549)"><rect class="c" width="43" height="26"/><text class="C" y="13"><tspan x="21.5" dy="-1.68em">One way oncologists</tspan><tspan x="21.5" dy="1.35em">learn of new trials is</tspan><tspan x="21.5" dy="1.35em">through digital</tspan><tspan x="21.5" dy="1.35em">systems.</tspan></text></g>
<g id="c-searching" transform="translate(258,549)"><rect class="c" width="43" height="26"/><text class="C" y="13"><tspan x="21.5" dy="-1em">Searching for trials is</tspan><tspan x="21.5" dy="1.35em">currently not</tspan><tspan x="21.5" dy="1.35em">comprehensive.</tspan></text></g>
<g id="c-connected" transform="translate(341,549)"><rect class="c" width="43" height="26"/><text class="Cs" y="13"><tspan x="21.5" dy="-1.68em">There are many</tspan><tspan x="21.5" dy="1.35em">patients that could</tspan><tspan x="21.5" dy="1.35em">benefit from trials that</tspan><tspan x="21.5" dy="1.35em">do not get connected.</tspan></text></g>
<g id="c-keycriteria" transform="translate(457,549)"><rect class="c" width="43" height="26"/><text class="Cs" y="13"><tspan x="21.5" dy="-1.68em">Oncologists know to</tspan><tspan x="21.5" dy="1.35em">check a few key criteria</tspan><tspan x="21.5" dy="1.35em">first, but the rest is done</tspan><tspan x="21.5" dy="1.35em">by the nurse.</tspan></text></g>
<g id="c-crmnurses" transform="translate(507,549)"><rect class="c" width="43" height="26"/><text class="Cs" y="13"><tspan x="21.5" dy="-1.68em">CRM nurses conduct an</tspan><tspan x="21.5" dy="1.35em">initial screening</tspan><tspan x="21.5" dy="1.35em">process with patients to</tspan><tspan x="21.5" dy="1.35em">check key trial criteria.</tspan></text></g>
<g id="c-subtle" transform="translate(586,549)"><rect class="c" width="43" height="26"/><text class="Cs" y="13"><tspan x="21.5" dy="-1.68em">Trials in the same field</tspan><tspan x="21.5" dy="1.35em">or center can have</tspan><tspan x="21.5" dy="1.35em">subtle differences in</tspan><tspan x="21.5" dy="1.35em">criteria.</tspan></text></g>
<g id="c-matching" transform="translate(636,549)"><rect class="c" width="43" height="26"/><text class="Cs" y="13"><tspan x="21.5" dy="-1.68em">Matching patients with</tspan><tspan x="21.5" dy="1.35em">trial criteria is becoming</tspan><tspan x="21.5" dy="1.35em">more complex and</tspan><tspan x="21.5" dy="1.35em">challenging.</tspan></text></g>
<g id="c-tedious" transform="translate(739,549)"><rect class="c" width="43" height="26"/><text class="Cs" y="13"><tspan x="21.5" dy="-1.68em">It's tedious for CRCs to</tspan><tspan x="21.5" dy="1.35em">obtain a patient's past</tspan><tspan x="21.5" dy="1.35em">records if they are not</tspan><tspan x="21.5" dy="1.35em">from their system.</tspan></text></g>
<g id="c-floor" transform="translate(790,549)"><rect class="c" width="43" height="26"/><text class="Cs" y="13"><tspan x="21.5" dy="-1.68em">Accessing information</tspan><tspan x="21.5" dy="1.35em">CRCs need on the</tspan><tspan x="21.5" dy="1.35em">floor can be</tspan><tspan x="21.5" dy="1.35em">inconvenient.</tspan></text></g>
<g id="c-quickly" transform="translate(841,549)"><rect class="c" width="43" height="26"/><text class="Cs" y="13"><tspan x="21.5" dy="-1.68em">CRCs need to be able</tspan><tspan x="21.5" dy="1.35em">to access and review</tspan><tspan x="21.5" dy="1.35em">information as quickly</tspan><tspan x="21.5" dy="1.35em">as possible.</tspan></text></g>
<g id="c-integrated" transform="translate(923,549)"><rect class="c" width="43" height="26"/><text class="Cs" y="13"><tspan x="21.5" dy="-1.68em">It's important that</tspan><tspan x="21.5" dy="1.35em">systems oncologists</tspan><tspan x="21.5" dy="1.35em">use are integrated</tspan><tspan x="21.5" dy="1.35em">together.</tspan></text></g>

<!-- ===== Gray headers ===== -->
<g id="k-work" transform="translate(1032,522)"><rect class="k" width="43" height="26"/><text class="K" y="13"><tspan x="21.5" dy="0.35em">Work Process</tspan></text></g>
<g id="k-timeline" transform="translate(1098,522)"><rect class="k" width="43" height="26"/><text class="K" y="13"><tspan x="21.5" dy="0.35em">Timeline</tspan></text></g>
<g id="k-opening" transform="translate(1167,522)"><rect class="k" width="43" height="26"/><text class="K" y="13"><tspan x="21.5" dy="0.35em">Opening Trials</tspan></text></g>
<g id="k-suggestions" transform="translate(1238,522)"><rect class="k" width="43" height="26"/><text class="K" y="13"><tspan x="21.5" dy="0.35em">Suggestions</tspan></text></g>

<!-- ===== Bottom notes ===== -->
<g id="na1" transform="translate(38,578.5)"><rect class="n" width="43" height="26"/><text class="M" y="13"><tspan x="21.5" dy="-1.68em">N1-8. It's challenging for</tspan><tspan x="21.5" dy="1.35em">doctors to know what</tspan><tspan x="21.5" dy="1.35em">trials are available in</tspan><tspan x="21.5" dy="1.35em">the time that they have.</tspan></text></g>
<g id="na2" transform="translate(38,608)"><rect class="n" width="43" height="26"/><text class="L" y="13"><tspan x="21.5" dy="-1.68em">B1-3. Oncologists are</tspan><tspan x="21.5" dy="1.35em">very busy and have</tspan><tspan x="21.5" dy="1.35em">extremely limited</tspan><tspan x="21.5" dy="1.35em">time.</tspan></text></g>
<g id="na3" transform="translate(38,637.5)"><rect class="n" width="43" height="26"/><text class="L" y="13"><tspan x="21.5" dy="-1.68em">O1-1. It is difficult for</tspan><tspan x="21.5" dy="1.35em">O1 to learn about</tspan><tspan x="21.5" dy="1.35em">new trials due to</tspan><tspan x="21.5" dy="1.35em">limited time.</tspan></text></g>
<g id="na4" transform="translate(38,667)"><rect class="n" width="43" height="26"/><text class="M" y="13"><tspan x="21.5" dy="-1.68em">O1-4. While O1 is aware</tspan><tspan x="21.5" dy="1.35em">of clinicaltrials.gov, he</tspan><tspan x="21.5" dy="1.35em">has no time to actually</tspan><tspan x="21.5" dy="1.35em">look at it.</tspan></text></g>
<g id="na5" transform="translate(38,696.5)"><rect class="n" width="43" height="26"/><text class="S" y="13"><tspan x="21.5" dy="-2.35em">O5-6 Most physicians</tspan><tspan x="21.5" dy="1.35em">don't check Clinical</tspan><tspan x="21.5" dy="1.35em">Pathways for trials until</tspan><tspan x="21.5" dy="1.35em">after the patient leaves or</tspan><tspan x="21.5" dy="1.35em">later in the day.</tspan></text></g>
<g id="na6" transform="translate(38,726)"><rect class="n" width="43" height="26"/><text class="M" y="13"><tspan x="21.5" dy="-1.68em">O4-5 Research nurses</tspan><tspan x="21.5" dy="1.35em">screen schedule for</tspan><tspan x="21.5" dy="1.35em">clinical trials but only if</tspan><tspan x="21.5" dy="1.35em">they have time.</tspan></text></g>
<g id="na7" transform="translate(38,755.5)"><rect class="n" width="43" height="26"/><text class="S" y="13"><tspan x="21.5" dy="-2.35em">O5-23 It's important to</tspan><tspan x="21.5" dy="1.35em">oncologists to reduce</tspan><tspan x="21.5" dy="1.35em">manual data entering</tspan><tspan x="21.5" dy="1.35em">especially since they</tspan><tspan x="21.5" dy="1.35em">already do so much.</tspan></text></g>

<g id="nb1" transform="translate(91,578.5)"><rect class="n" width="43" height="26"/><text class="S" y="13"><tspan x="21.5" dy="-2.35em">N3-4. N3 would love to be</tspan><tspan x="21.5" dy="1.35em">able to quickly run her list of</tspan><tspan x="21.5" dy="1.35em">patients for the day and see</tspan><tspan x="21.5" dy="1.35em">what potential trials they</tspan><tspan x="21.5" dy="1.35em">would be eligible for.</tspan></text></g>
<g id="nb2" transform="translate(91,608)"><rect class="n" width="43" height="26"/><text class="M" y="13"><tspan x="21.5" dy="-2.35em">O5-24 O5 would love to</tspan><tspan x="21.5" dy="1.35em">have a "red flag" by his</tspan><tspan x="21.5" dy="1.35em">patients for the day that</tspan><tspan x="21.5" dy="1.35em">are potentially eligible for</tspan><tspan x="21.5" dy="1.35em">trials.</tspan></text></g>
<g id="nb3" transform="translate(91,637.5)"><rect class="n" width="43" height="26"/><text class="S" y="13"><tspan x="21.5" dy="-2.35em">N3-3. N3 wants to have</tspan><tspan x="21.5" dy="1.35em">access to list of potential</tspan><tspan x="21.5" dy="1.35em">trials for a patient so that</tspan><tspan x="21.5" dy="1.35em">she can be prepared to</tspan><tspan x="21.5" dy="1.35em">speak with doctors &amp; patients.</tspan></text></g>
<g id="nb4" transform="translate(91,667)"><rect class="n" width="43" height="26"/><text class="M" y="13"><tspan x="21.5" dy="-1.68em">O5-17 "It would be very</tspan><tspan x="21.5" dy="1.35em">helpful to just see a list</tspan><tspan x="21.5" dy="1.35em">of potential trials for</tspan><tspan x="21.5" dy="1.35em">each patient."</tspan></text></g>
<g id="nb5" transform="translate(91,696.5)"><rect class="n" width="43" height="26"/><text class="M" y="13"><tspan x="21.5" dy="-2.35em">O5-15 O5 would like an</tspan><tspan x="21.5" dy="1.35em">app that preloads all</tspan><tspan x="21.5" dy="1.35em">potential trials for a</tspan><tspan x="21.5" dy="1.35em">patient and lets him slice</tspan><tspan x="21.5" dy="1.35em">(e.g. biomarkers).</tspan></text></g>
<g id="nb6" transform="translate(91,726)"><rect class="n" width="43" height="26"/><text class="S" y="13"><tspan x="21.5" dy="-2.35em">O2-2 There isn't interest in</tspan><tspan x="21.5" dy="1.35em">testing certain trials</tspan><tspan x="21.5" dy="1.35em">because there's no real</tspan><tspan x="21.5" dy="1.35em">hypothetical question</tspan><tspan x="21.5" dy="1.35em">being tested.</tspan></text></g>

<g id="nc1" transform="translate(164,578.5)"><rect class="n" width="43" height="26"/><text class="S" y="13"><tspan x="21.5" dy="-2.35em">O6-19 I get a huge PDF with</tspan><tspan x="21.5" dy="1.35em">all the available trials that the</tspan><tspan x="21.5" dy="1.35em">clinical trials office reviews,</tspan><tspan x="21.5" dy="1.35em">but I'll not read about</tspan><tspan x="21.5" dy="1.35em">them.</tspan></text></g>
<g id="nc2" transform="translate(164,608)"><rect class="n" width="43" height="26"/><text class="M" y="13"><tspan x="21.5" dy="-1.68em">B1-4. Oncologists need</tspan><tspan x="21.5" dy="1.35em">to be aware of many</tspan><tspan x="21.5" dy="1.35em">trials to know what to</tspan><tspan x="21.5" dy="1.35em">suggest to patients.</tspan></text></g>
<g id="nc3" transform="translate(164,637.5)"><rect class="n" width="43" height="26"/><text class="L" y="13"><tspan x="21.5" dy="-1.68em">B1-2. Oncologists</tspan><tspan x="21.5" dy="1.35em">seem to spend a lot</tspan><tspan x="21.5" dy="1.35em">of time reading</tspan><tspan x="21.5" dy="1.35em">clinical trials.</tspan></text></g>

<g id="nd1" transform="translate(211,578.5)"><rect class="n" width="43" height="26"/><text class="L" y="13"><tspan x="21.5" dy="-1.68em">O1-2. O1 learns of</tspan><tspan x="21.5" dy="1.35em">trials via e-mails from</tspan><tspan x="21.5" dy="1.35em">pharmaceutical</tspan><tspan x="21.5" dy="1.35em">companies.</tspan></text></g>
<g id="nd2" transform="translate(211,608)"><rect class="n" width="43" height="26"/><text class="M" y="13"><tspan x="21.5" dy="-2.35em">O5-2 RadOncologists</tspan><tspan x="21.5" dy="1.35em">identify new trials in the</tspan><tspan x="21.5" dy="1.35em">network using UPMC's</tspan><tspan x="21.5" dy="1.35em">Clinical Pathways</tspan><tspan x="21.5" dy="1.35em">platform.</tspan></text></g>
<g id="nd3" transform="translate(211,637.5)"><rect class="n" width="43" height="26"/><text class="M" y="13"><tspan x="21.5" dy="-2.35em">M-1 We get a weekly</tspan><tspan x="21.5" dy="1.35em">list of any studies that</tspan><tspan x="21.5" dy="1.35em">are open and that goes</tspan><tspan x="21.5" dy="1.35em">to the physicians as</tspan><tspan x="21.5" dy="1.35em">well.</tspan></text></g>
<g id="nd4" transform="translate(211,667)"><rect class="n" width="43" height="26"/><text class="M" y="13"><tspan x="21.5" dy="-1.68em">M-2 The trial comes into</tspan><tspan x="21.5" dy="1.35em">clinical research center</tspan><tspan x="21.5" dy="1.35em">and then pushes to the</tspan><tspan x="21.5" dy="1.35em">specific disease center.</tspan></text></g>
<g id="nd5" transform="translate(211,696.5)"><rect class="n" width="43" height="26"/><text class="S" y="13"><tspan x="21.5" dy="-3.03em">O5-1 UPMC's Clinical</tspan><tspan x="21.5" dy="1.35em">Pathways platform provides</tspan><tspan x="21.5" dy="1.35em">a "pathway" per disease</tspan><tspan x="21.5" dy="1.35em">where the user can see a list</tspan><tspan x="21.5" dy="1.35em">of trials available for</tspan><tspan x="21.5" dy="1.35em">standard care.</tspan></text></g>

<g id="ne1" transform="translate(258,578.5)"><rect class="n" width="43" height="26"/><text class="S" y="13"><tspan x="21.5" dy="-2.35em">O5-27 UPMC's Pathways</tspan><tspan x="21.5" dy="1.35em">platform does not have</tspan><tspan x="21.5" dy="1.35em">clinical data. It only</tspan><tspan x="21.5" dy="1.35em">searches for trials based</tspan><tspan x="21.5" dy="1.35em">on disease name.</tspan></text></g>
<g id="ne2" transform="translate(258,608)"><rect class="n" width="43" height="26"/><text class="S" y="13"><tspan x="21.5" dy="-2.35em">N3-5 ClinicalTrials.gov shows</tspan><tspan x="21.5" dy="1.35em">researchers the full list of</tspan><tspan x="21.5" dy="1.35em">criteria and it narrows for</tspan><tspan x="21.5" dy="1.35em">investigator-initiated trials,</tspan><tspan x="21.5" dy="1.35em">only key criteria.</tspan></text></g>
<g id="ne3" transform="translate(258,637.5)"><rect class="n" width="43" height="26"/><text class="M" y="13"><tspan x="21.5" dy="-1.68em">O5-13 Not all potential</tspan><tspan x="21.5" dy="1.35em">trials for a patient are</tspan><tspan x="21.5" dy="1.35em">considered; many are</tspan><tspan x="21.5" dy="1.35em">often missed.</tspan></text></g>

<g id="nf1" transform="translate(341,578.5)"><rect class="n" width="43" height="26"/><text class="L" y="13"><tspan x="21.5" dy="-1.68em">O5-27 Paper lists of</tspan><tspan x="21.5" dy="1.35em">potential clinical</tspan><tspan x="21.5" dy="1.35em">trials for a patient are</tspan><tspan x="21.5" dy="1.35em">often lost.</tspan></text></g>
<g id="nf2" transform="translate(341,608)"><rect class="n" width="43" height="26"/><text class="L" y="13"><tspan x="21.5" dy="-1em">B1-7. It is often hard</tspan><tspan x="21.5" dy="1.35em">to connect patients</tspan><tspan x="21.5" dy="1.35em">to trials.</tspan></text></g>
<g id="nf3" transform="translate(341,637.5)"><rect class="n" width="43" height="26"/><text class="L" y="13"><tspan x="21.5" dy="-1.68em">N2-5. "70% of a</tspan><tspan x="21.5" dy="1.35em">patient, if they knew</tspan><tspan x="21.5" dy="1.35em">about a trial, would</tspan><tspan x="21.5" dy="1.35em">have done it."</tspan></text></g>
<g id="nf4" transform="translate(341,667)"><rect class="n" width="43" height="26"/><text class="S" y="13"><tspan x="21.5" dy="-2.35em">O3-1 Most cancer patients</tspan><tspan x="21.5" dy="1.35em">are treated in non-academic</tspan><tspan x="21.5" dy="1.35em">medical centers, which is a</tspan><tspan x="21.5" dy="1.35em">barrier to getting more adult</tspan><tspan x="21.5" dy="1.35em">patients on clinical trials.</tspan></text></g>
<g id="nf5" transform="translate(341,696.5)"><rect class="n" width="43" height="26"/><text class="M" y="13"><tspan x="21.5" dy="-2.35em">O3-5 With matching,</tspan><tspan x="21.5" dy="1.35em">you may end up with a</tspan><tspan x="21.5" dy="1.35em">lot more studies than</tspan><tspan x="21.5" dy="1.35em">you expect if you don't</tspan><tspan x="21.5" dy="1.35em">nationwide.</tspan></text></g>

<g id="ng1" transform="translate(457,578.5)"><rect class="n" width="43" height="26"/><text class="S" y="13"><tspan x="21.5" dy="-2.35em">N3-5. N3 nurses will do an</tspan><tspan x="21.5" dy="1.35em">initial trial screening for a</tspan><tspan x="21.5" dy="1.35em">patient based on their cancer,</tspan><tspan x="21.5" dy="1.35em">cancer stage, anything going</tspan><tspan x="21.5" dy="1.35em">the latest and check eligibility.</tspan></text></g>
<g id="ng2" transform="translate(457,608)"><rect class="n" width="43" height="26"/><text class="M" y="13"><tspan x="21.5" dy="-2.35em">O6-16 I generally look</tspan><tspan x="21.5" dy="1.35em">through the top 3-5</tspan><tspan x="21.5" dy="1.35em">criteria because I don't</tspan><tspan x="21.5" dy="1.35em">have time to go through</tspan><tspan x="21.5" dy="1.35em">all of it.</tspan></text></g>
<g id="ng3" transform="translate(457,637.5)"><rect class="n" width="43" height="26"/><text class="S" y="13"><tspan x="21.5" dy="-2.35em">O5-9 When considering</tspan><tspan x="21.5" dy="1.35em">trials, O5 first wanted to</tspan><tspan x="21.5" dy="1.35em">know details of the patient's</tspan><tspan x="21.5" dy="1.35em">cancer: primary site, node</tspan><tspan x="21.5" dy="1.35em">staging, and co-morbidities.</tspan></text></g>
<g id="ng4" transform="translate(457,667)"><rect class="n" width="43" height="26"/><text class="M" y="13"><tspan x="21.5" dy="-2.35em">O5-30 It would be</tspan><tspan x="21.5" dy="1.35em">helpful if the system</tspan><tspan x="21.5" dy="1.35em">could pre-screen for</tspan><tspan x="21.5" dy="1.35em">staging, status, and</tspan><tspan x="21.5" dy="1.35em">age.</tspan></text></g>
<g id="ng5" transform="translate(457,696.5)"><rect class="n" width="43" height="26"/><text class="M" y="13"><tspan x="21.5" dy="-1.68em">O4-9 It doesn't take</tspan><tspan x="21.5" dy="1.35em">the nurse too long to</tspan><tspan x="21.5" dy="1.35em">screen the patient, I</tspan><tspan x="21.5" dy="1.35em">am not involved.</tspan></text></g>
<g id="ng6" transform="translate(457,726)"><rect class="n" width="43" height="26"/><text class="S" y="13"><tspan x="21.5" dy="-2.35em">N3-5 There are always some</tspan><tspan x="21.5" dy="1.35em">standard key inclusion and</tspan><tspan x="21.5" dy="1.35em">exclusion criteria that are</tspan><tspan x="21.5" dy="1.35em">easiest to decide whether a</tspan><tspan x="21.5" dy="1.35em">patient is eligible for a trial.</tspan></text></g>
<g id="ng7" transform="translate(457,755.5)"><rect class="n" width="43" height="26"/><text class="L" y="13"><tspan x="21.5" dy="-1.68em">O5-14 "The best</tspan><tspan x="21.5" dy="1.35em">value is a system</tspan><tspan x="21.5" dy="1.35em">that pre-screens</tspan><tspan x="21.5" dy="1.35em">patients."</tspan></text></g>
<g id="ng8" transform="translate(457,785)"><rect class="n" width="43" height="26"/><text class="S" y="13"><tspan x="21.5" dy="-2.35em">O5-7 It'd be helpful to</tspan><tspan x="21.5" dy="1.35em">identify if patients could</tspan><tspan x="21.5" dy="1.35em">pass the prescreen to skip</tspan><tspan x="21.5" dy="1.35em">the 4 weeks of prescreen</tspan><tspan x="21.5" dy="1.35em">testing.</tspan></text></g>
<g id="ng9" transform="translate(457,814.5)"><rect class="n" width="43" height="26"/><text class="S" y="13"><tspan x="21.5" dy="-2.35em">N1-6 In the electronic</tspan><tspan x="21.5" dy="1.35em">medical record, I look at the</tspan><tspan x="21.5" dy="1.35em">pathology results for the</tspan><tspan x="21.5" dy="1.35em">patient first and then any</tspan><tspan x="21.5" dy="1.35em">exams that have been done.</tspan></text></g>

<g id="nh1" transform="translate(507,578.5)"><rect class="n" width="43" height="26"/><text class="S" y="13"><tspan x="21.5" dy="-3.03em">O4-3 I contact the research</tspan><tspan x="21.5" dy="1.35em">nurse, who goes through the</tspan><tspan x="21.5" dy="1.35em">screening process in detail</tspan><tspan x="21.5" dy="1.35em">because I already know that</tspan><tspan x="21.5" dy="1.35em">the patient would fit general</tspan><tspan x="21.5" dy="1.35em">requirements.</tspan></text></g>
<g id="nh2" transform="translate(507,608)"><rect class="n" width="43" height="26"/><text class="S" y="13"><tspan x="21.5" dy="-3.03em">O1-3 The CRM nurse is</tspan><tspan x="21.5" dy="1.35em">responsible for entering</tspan><tspan x="21.5" dy="1.35em">details of a clinical trial with</tspan><tspan x="21.5" dy="1.35em">the patient and checking the</tspan><tspan x="21.5" dy="1.35em">trial criteria with the patient's</tspan><tspan x="21.5" dy="1.35em">chart.</tspan></text></g>
<g id="nh3" transform="translate(507,637.5)"><rect class="n" width="43" height="26"/><text class="S" y="13"><tspan x="21.5" dy="-2.35em">N1-13 I screen the patient</tspan><tspan x="21.5" dy="1.35em">and find out and then tell the</tspan><tspan x="21.5" dy="1.35em">doctor about the first one and</tspan><tspan x="21.5" dy="1.35em">give them some brief</tspan><tspan x="21.5" dy="1.35em">information about it.</tspan></text></g>
<g id="nh4" transform="translate(507,667)"><rect class="n" width="43" height="26"/><text class="S" y="13"><tspan x="21.5" dy="-2.35em">O1-5 O1 has never had to</tspan><tspan x="21.5" dy="1.35em">cross-check a clinical trial</tspan><tspan x="21.5" dy="1.35em">criteria with a patient's chart.</tspan><tspan x="21.5" dy="1.35em">This is always done by the</tspan><tspan x="21.5" dy="1.35em">nurses at UPMC.</tspan></text></g>
<g id="nh5" transform="translate(507,696.5)"><rect class="n" width="43" height="26"/><text class="S" y="13"><tspan x="21.5" dy="-2.35em">O1-8 If the CRM nurse finds</tspan><tspan x="21.5" dy="1.35em">that all criteria match for a</tspan><tspan x="21.5" dy="1.35em">patient, O1 will often sign off</tspan><tspan x="21.5" dy="1.35em">on the trial without double-</tspan><tspan x="21.5" dy="1.35em">checking the criteria.</tspan></text></g>
<g id="nh6" transform="translate(507,726)"><rect class="n" width="43" height="26"/><text class="S" y="13"><tspan x="21.5" dy="-2.35em">O3-3 Coordinators</tspan><tspan x="21.5" dy="1.35em">generally prescreen the</tspan><tspan x="21.5" dy="1.35em">patient in a timeframe of 4</tspan><tspan x="21.5" dy="1.35em">weeks to try and get them</tspan><tspan x="21.5" dy="1.35em">on a CT.</tspan></text></g>
<g id="nh7" transform="translate(507,755.5)"><rect class="n" width="43" height="26"/><text class="S" y="13"><tspan x="21.5" dy="-2.35em">N1-7 I know some exclusion</tspan><tspan x="21.5" dy="1.35em">criteria that basically</tspan><tspan x="21.5" dy="1.35em">appears on all clinical trials</tspan><tspan x="21.5" dy="1.35em">so I remember that</tspan><tspan x="21.5" dy="1.35em">information in my head.</tspan></text></g>

<g id="ni1" transform="translate(586,578.5)"><rect class="n" width="43" height="26"/><text class="S" y="13"><tspan x="21.5" dy="-2.35em">O5-7 Screening patients</tspan><tspan x="21.5" dy="1.35em">for CT may be slightly</tspan><tspan x="21.5" dy="1.35em">different depending on the</tspan><tspan x="21.5" dy="1.35em">hospital even if the criteria</tspan><tspan x="21.5" dy="1.35em">is the same.</tspan></text></g>
<g id="ni2" transform="translate(586,608)"><rect class="n" width="43" height="26"/><text class="S" y="13"><tspan x="21.5" dy="-2.35em">O6-9 O5 decides on a trial</tspan><tspan x="21.5" dy="1.35em">for a patient based on</tspan><tspan x="21.5" dy="1.35em">secondary standard division</tspan><tspan x="21.5" dy="1.35em">of their cancer (e.g. T2 vs.</tspan><tspan x="21.5" dy="1.35em">T4 resectable).</tspan></text></g>
<g id="ni3" transform="translate(586,637.5)"><rect class="n" width="43" height="26"/><text class="S" y="13"><tspan x="21.5" dy="-2.35em">O5-1 Radiation oncology</tspan><tspan x="21.5" dy="1.35em">trials are highly curated</tspan><tspan x="21.5" dy="1.35em">and can have subtle</tspan><tspan x="21.5" dy="1.35em">differences in inclusion</tspan><tspan x="21.5" dy="1.35em">criteria.</tspan></text></g>
<g id="ni4" transform="translate(586,667)"><rect class="n" width="43" height="26"/><text class="S" y="13"><tspan x="21.5" dy="-2.35em">N1-4 Nowadays, the list of</tspan><tspan x="21.5" dy="1.35em">inclusion criteria is very</tspan><tspan x="21.5" dy="1.35em">specific for clinical new drugs</tspan><tspan x="21.5" dy="1.35em">which require more</tspan><tspan x="21.5" dy="1.35em">testing for the tumor.</tspan></text></g>

<g id="nj1" transform="translate(636,578.5)"><rect class="n" width="43" height="26"/><text class="M" y="13"><tspan x="21.5" dy="-1.68em">B1-2. It is very difficult</tspan><tspan x="21.5" dy="1.35em">for patients to read</tspan><tspan x="21.5" dy="1.35em">through complex</tspan><tspan x="21.5" dy="1.35em">criteria for clinical trials.</tspan></text></g>
<g id="nj2" transform="translate(636,608)"><rect class="n" width="43" height="26"/><text class="M" y="13"><tspan x="21.5" dy="-1.68em">O4-10 Making sure</tspan><tspan x="21.5" dy="1.35em">people fit criteria for</tspan><tspan x="21.5" dy="1.35em">trials is difficult; double</tspan><tspan x="21.5" dy="1.35em">checking is not hard.</tspan></text></g>
<g id="nj3" transform="translate(636,637.5)"><rect class="n" width="43" height="26"/><text class="M" y="13"><tspan x="21.5" dy="-1.68em">O2-12 Requirements for</tspan><tspan x="21.5" dy="1.35em">a trial often change with</tspan><tspan x="21.5" dy="1.35em">amendments (e.g. 28</tspan><tspan x="21.5" dy="1.35em">days to 30 days).</tspan></text></g>
<g id="nj4" transform="translate(636,667)"><rect class="n" width="43" height="26"/><text class="M" y="13"><tspan x="21.5" dy="-1.68em">O3-4 Trials are getting</tspan><tspan x="21.5" dy="1.35em">more specific but</tspan><tspan x="21.5" dy="1.35em">patients cannot miss</tspan><tspan x="21.5" dy="1.35em">any of the criteria.</tspan></text></g>
<g id="nj5" transform="translate(636,696.5)"><rect class="n" width="43" height="26"/><text class="S" y="13"><tspan x="21.5" dy="-2.35em">O3-2 Matching criteria is</tspan><tspan x="21.5" dy="1.35em">not easy as there are</tspan><tspan x="21.5" dy="1.35em">certain nuances where</tspan><tspan x="21.5" dy="1.35em">you'll have to talk to the</tspan><tspan x="21.5" dy="1.35em">investigator.</tspan></text></g>
<g id="nj6" transform="translate(636,726)"><rect class="n" width="43" height="26"/><text class="M" y="13"><tspan x="21.5" dy="-2.35em">O3-11 I am hugely</tspan><tspan x="21.5" dy="1.35em">incentivized to run trials</tspan><tspan x="21.5" dy="1.35em">but I can only</tspan><tspan x="21.5" dy="1.35em">prescreen/overview about</tspan><tspan x="21.5" dy="1.35em">40-50% of patients.</tspan></text></g>
<g id="nj7" transform="translate(636,755.5)"><rect class="n" width="43" height="26"/><text class="S" y="13"><tspan x="21.5" dy="-2.35em">O3-15 Doctors have no</tspan><tspan x="21.5" dy="1.35em">standard way of</tspan><tspan x="21.5" dy="1.35em">documentation and what's</tspan><tspan x="21.5" dy="1.35em">important in a patient</tspan><tspan x="21.5" dy="1.35em">record is subjective.</tspan></text></g>
<g id="nj8" transform="translate(636,785)"><rect class="n" width="43" height="26"/><text class="M" y="13"><tspan x="21.5" dy="-2.35em">O1-16. It's rare that O1 is</tspan><tspan x="21.5" dy="1.35em">comparing multiple</tspan><tspan x="21.5" dy="1.35em">trials for a patient</tspan><tspan x="21.5" dy="1.35em">where criteria are all</tspan><tspan x="21.5" dy="1.35em">matched.</tspan></text></g>

<g id="nk1" transform="translate(739,578.5)"><rect class="n" width="43" height="26"/><text class="S" y="13"><tspan x="21.5" dy="-3.03em">N3-1 Certain criteria can be</tspan><tspan x="21.5" dy="1.35em">difficult to screen if the labs</tspan><tspan x="21.5" dy="1.35em">were not done at UPMC;</tspan><tspan x="21.5" dy="1.35em">CRMs need to contact</tspan><tspan x="21.5" dy="1.35em">previous providers and</tspan><tspan x="21.5" dy="1.35em">obtain records.</tspan></text></g>
<g id="nk2" transform="translate(739,608)"><rect class="n" width="43" height="26"/><text class="M" y="13"><tspan x="21.5" dy="-2.35em">O3-10 Nurses often have</tspan><tspan x="21.5" dy="1.35em">to call to get patient</tspan><tspan x="21.5" dy="1.35em">records and need certain</tspan><tspan x="21.5" dy="1.35em">scans and reports to be</tspan><tspan x="21.5" dy="1.35em">available.</tspan></text></g>

<g id="nl1" transform="translate(790,578.5)"><rect class="n" width="43" height="26"/><text class="S" y="13"><tspan x="21.5" dy="-2.35em">N1-16 There are computers</tspan><tspan x="21.5" dy="1.35em">in the patient room but the</tspan><tspan x="21.5" dy="1.35em">doctors and medical</tspan><tspan x="21.5" dy="1.35em">assistants are usually</tspan><tspan x="21.5" dy="1.35em">using them.</tspan></text></g>
<g id="nl2" transform="translate(790,608)"><rect class="n" width="43" height="26"/><text class="S" y="13"><tspan x="21.5" dy="-3.03em">N1-8 We used to have an</tspan><tspan x="21.5" dy="1.35em">ecosystem on a floor that</tspan><tspan x="21.5" dy="1.35em">was very helpful for</tspan><tspan x="21.5" dy="1.35em">looking up information about</tspan><tspan x="21.5" dy="1.35em">a patient because it was</tspan><tspan x="21.5" dy="1.35em">portable.</tspan></text></g>
<g id="nl3" transform="translate(790,637.5)"><rect class="n" width="43" height="26"/><text class="L" y="13"><tspan x="21.5" dy="-1.68em">N1-7 Patients are in</tspan><tspan x="21.5" dy="1.35em">the clinic but all our</tspan><tspan x="21.5" dy="1.35em">information is in our</tspan><tspan x="21.5" dy="1.35em">office.</tspan></text></g>
<g id="nl4" transform="translate(790,667)"><rect class="n" width="43" height="26"/><text class="M" y="13"><tspan x="21.5" dy="-1.68em">O5-26 The current</tspan><tspan x="21.5" dy="1.35em">process for finding</tspan><tspan x="21.5" dy="1.35em">potential trials is manual</tspan><tspan x="21.5" dy="1.35em">- print out list on paper.</tspan></text></g>

<g id="nm1" transform="translate(841,578.5)"><rect class="n" width="43" height="26"/><text class="S" y="13"><tspan x="21.5" dy="-2.35em">N1-5 I want as much</tspan><tspan x="21.5" dy="1.35em">information as possible at</tspan><tspan x="21.5" dy="1.35em">my fingertips because time</tspan><tspan x="21.5" dy="1.35em">spent looking is time wasted</tspan><tspan x="21.5" dy="1.35em">with the patient.</tspan></text></g>
<g id="nm2" transform="translate(841,608)"><rect class="n" width="43" height="26"/><text class="S" y="13"><tspan x="21.5" dy="-2.35em">N1-16 You have everything the</tspan><tspan x="21.5" dy="1.35em">medical records because</tspan><tspan x="21.5" dy="1.35em">you don't have much time to</tspan><tspan x="21.5" dy="1.35em">operate on a patient's</tspan><tspan x="21.5" dy="1.35em">selection time.</tspan></text></g>

<g id="nn1" transform="translate(923,578.5)"><rect class="n" width="43" height="26"/><text class="S" y="13"><tspan x="21.5" dy="-2.35em">O5-20 Interfacing with</tspan><tspan x="21.5" dy="1.35em">UPMC's Pathways platform</tspan><tspan x="21.5" dy="1.35em">would be helpful and prompt</tspan><tspan x="21.5" dy="1.35em">physicians to look at the list</tspan><tspan x="21.5" dy="1.35em">of trials more often.</tspan></text></g>
<g id="nn2" transform="translate(923,608)"><rect class="n" width="43" height="26"/><text class="S" y="13"><tspan x="21.5" dy="-2.35em">O5-22 "If it is a 3rd party</tspan><tspan x="21.5" dy="1.35em">system, nobody will use it."</tspan><tspan x="21.5" dy="1.35em">Physicians have enough</tspan><tspan x="21.5" dy="1.35em">systems to use (EMR,</tspan><tspan x="21.5" dy="1.35em">Pathways, etc.).</tspan></text></g>
<g id="nn3" transform="translate(923,637.5)"><rect class="n" width="43" height="26"/><text class="S" y="13"><tspan x="21.5" dy="-3.03em">N3-6. N3 nurses believe it</tspan><tspan x="21.5" dy="1.35em">will be more accurate if a</tspan><tspan x="21.5" dy="1.35em">new app/system were</tspan><tspan x="21.5" dy="1.35em">embedded into existing</tspan><tspan x="21.5" dy="1.35em">EMRs physicians use or</tspan><tspan x="21.5" dy="1.35em">Pathways.</tspan></text></g>
<g id="nn4" transform="translate(923,667)"><rect class="n" width="43" height="26"/><text class="M" y="13"><tspan x="21.5" dy="-1.68em">O5-25 "It [DAAC]</tspan><tspan x="21.5" dy="1.35em">should be integrated</tspan><tspan x="21.5" dy="1.35em">with existing</tspan><tspan x="21.5" dy="1.35em">systems."</tspan></text></g>
<g id="nn5" transform="translate(923,696.5)"><rect class="n" width="43" height="26"/><text class="S" y="13"><tspan x="21.5" dy="-2.35em">O4-6 Nurses don't have</tspan><tspan x="21.5" dy="1.35em">time to screen for clinical</tspan><tspan x="21.5" dy="1.35em">trials. It's best if you have</tspan><tspan x="21.5" dy="1.35em">a person doing only that</tspan><tspan x="21.5" dy="1.35em">all day.</tspan></text></g>

<!-- Misc notes -->
<g id="nw1" transform="translate(1032,552)"><rect class="n" width="43" height="26"/><text class="M" y="13"><tspan x="21.5" dy="-2.35em">N2-4. N2 nurses rely on</tspan><tspan x="21.5" dy="1.35em">clinicaltrial</tspan><tspan x="21.5" dy="1.35em">management</tspan><tspan x="21.5" dy="1.35em">application once trial</tspan><tspan x="21.5" dy="1.35em">has started.</tspan></text></g>
<g id="nw2" transform="translate(1032,581.7)"><rect class="n" width="43" height="26"/><text class="M" y="13"><tspan x="21.5" dy="-1.68em">O5-28 O5 will</tspan><tspan x="21.5" dy="1.35em">occasionally look at</tspan><tspan x="21.5" dy="1.35em">the charts of patients</tspan><tspan x="21.5" dy="1.35em">on other days.</tspan></text></g>
<g id="nw3" transform="translate(1032,611.4)"><rect class="n" width="43" height="26"/><text class="S" y="13"><tspan x="21.5" dy="-2.35em">O1-6. O5 will first share</tspan><tspan x="21.5" dy="1.35em">general details of a few</tspan><tspan x="21.5" dy="1.35em">clinical trials with a</tspan><tspan x="21.5" dy="1.35em">patient, before</tspan><tspan x="21.5" dy="1.35em">considering the criteria.</tspan></text></g>
<g id="nw4" transform="translate(1032,641.1)"><rect class="n" width="43" height="26"/><text class="S" y="13"><tspan x="21.5" dy="-2.35em">N1-12 The stage, drugs</tspan><tspan x="21.5" dy="1.35em">that the patient is on, and</tspan><tspan x="21.5" dy="1.35em">other information needs to</tspan><tspan x="21.5" dy="1.35em">be matched to the clinical</tspan><tspan x="21.5" dy="1.35em">trial criteria.</tspan></text></g>
<g id="nw5" transform="translate(1032,670.8)"><rect class="n" width="43" height="26"/><text class="S" y="13"><tspan x="21.5" dy="-2.35em">O1-15. When comparing</tspan><tspan x="21.5" dy="1.35em">trials, O1 considers</tspan><tspan x="21.5" dy="1.35em">medications used,</tspan><tspan x="21.5" dy="1.35em">response rate, and known</tspan><tspan x="21.5" dy="1.35em">side effects.</tspan></text></g>
<g id="nw6" transform="translate(1032,700.5)"><rect class="n" width="43" height="26"/><text class="M" y="13"><tspan x="21.5" dy="-1.68em">N1-5 Patients may</tspan><tspan x="21.5" dy="1.35em">have to get multiple</tspan><tspan x="21.5" dy="1.35em">biopsies if they get</tspan><tspan x="21.5" dy="1.35em">rejected from a trial.</tspan></text></g>
<g id="nw7" transform="translate(1032,730.2)"><rect class="n" width="43" height="26"/><text class="S" y="13"><tspan x="21.5" dy="-2.35em">O6-15 I don't feel</tspan><tspan x="21.5" dy="1.35em">pressured to make sure</tspan><tspan x="21.5" dy="1.35em">that patients stay at UPMC</tspan><tspan x="21.5" dy="1.35em">because quotas are not</tspan><tspan x="21.5" dy="1.35em">given for trials.</tspan></text></g>

<g id="nt1" transform="translate(1098,552)"><rect class="n" width="43" height="26"/><text class="M" y="13"><tspan x="21.5" dy="-1.68em">O1-9. If a patient</tspan><tspan x="21.5" dy="1.35em">successfully matches a</tspan><tspan x="21.5" dy="1.35em">trial, it will typically</tspan><tspan x="21.5" dy="1.35em">begin in 1-6 weeks.</tspan></text></g>
<g id="nt2" transform="translate(1098,581.7)"><rect class="n" width="43" height="26"/><text class="S" y="13"><tspan x="21.5" dy="-2.35em">P1-8. A visit to the oncologist</tspan><tspan x="21.5" dy="1.35em">takes ~2 hours including</tspan><tspan x="21.5" dy="1.35em">vitals, bloodwork, possibly</tspan><tspan x="21.5" dy="1.35em">waiting for a PA, and speaking</tspan><tspan x="21.5" dy="1.35em">with the oncologist.</tspan></text></g>

<g id="no1" transform="translate(1167,552)"><rect class="n" width="43" height="26"/><text class="S" y="13"><tspan x="21.5" dy="-2.35em">O5-5 Opening a new trial is</tspan><tspan x="21.5" dy="1.35em">an interdisciplinary effort and</tspan><tspan x="21.5" dy="1.35em">can involve engaging with</tspan><tspan x="21.5" dy="1.35em">companies and researchers in</tspan><tspan x="21.5" dy="1.35em">the patient population.</tspan></text></g>
<g id="no2" transform="translate(1167,581.7)"><rect class="n" width="43" height="26"/><text class="S" y="13"><tspan x="21.5" dy="-2.35em">O5-10 It would be helpful if</tspan><tspan x="21.5" dy="1.35em">there was an application that</tspan><tspan x="21.5" dy="1.35em">provided a list of trials</tspan><tspan x="21.5" dy="1.35em">associated to each center</tspan><tspan x="21.5" dy="1.35em">based on patient registry.</tspan></text></g>
<g id="no3" transform="translate(1167,611.4)"><rect class="n" width="43" height="26"/><text class="S" y="13"><tspan x="21.5" dy="-2.35em">O5-11 The number of clinical</tspan><tspan x="21.5" dy="1.35em">trials vary from cancer to</tspan><tspan x="21.5" dy="1.35em">cancer; some clinical trials</tspan><tspan x="21.5" dy="1.35em">are "hot/active" and cover a</tspan><tspan x="21.5" dy="1.35em">wider range.</tspan></text></g>
<g id="no4" transform="translate(1167,641.1)"><rect class="n" width="43" height="26"/><text class="M" y="13"><tspan x="21.5" dy="-1em">O2-5 RadOncologists</tspan><tspan x="21.5" dy="1.35em">want to know what trials</tspan><tspan x="21.5" dy="1.35em">can be opened quickly.</tspan></text></g>
<g id="no5" transform="translate(1167,670.8)"><rect class="n" width="43" height="26"/><text class="S" y="13"><tspan x="21.5" dy="-2.35em">O6-3 Trials take very long to</tspan><tspan x="21.5" dy="1.35em">open, so by the time one</tspan><tspan x="21.5" dy="1.35em">opens, another has probably</tspan><tspan x="21.5" dy="1.35em">reached and now is not</tspan><tspan x="21.5" dy="1.35em">accrued.</tspan></text></g>

<g id="ns1" transform="translate(1238,552)"><rect class="n" width="43" height="26"/><text class="M" y="13"><tspan x="21.5" dy="-2.35em">O1-11. Melanoma is a</tspan><tspan x="21.5" dy="1.35em">cancer with a large</tspan><tspan x="21.5" dy="1.35em">number of trials – the</tspan><tspan x="21.5" dy="1.35em">app may be more</tspan><tspan x="21.5" dy="1.35em">useful for this.</tspan></text></g>
<g id="ns2" transform="translate(1238,581.7)"><rect class="n" width="43" height="26"/><text class="M" y="13"><tspan x="21.5" dy="-2.35em">O1-11. Categorization of</tspan><tspan x="21.5" dy="1.35em">clinical trial criteria is</tspan><tspan x="21.5" dy="1.35em">not important to O1</tspan><tspan x="21.5" dy="1.35em">since all have to be</tspan><tspan x="21.5" dy="1.35em">reviewed anyways.</tspan></text></g>
</svg>
